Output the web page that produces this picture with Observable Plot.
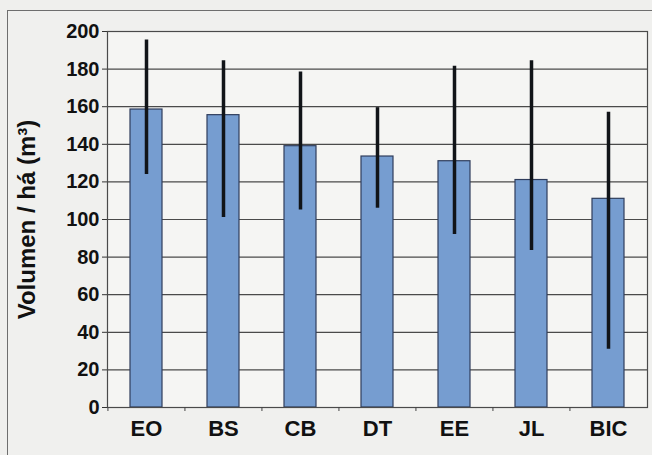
<!DOCTYPE html>
<html>
<head>
<meta charset="utf-8">
<script src="https://cdn.jsdelivr.net/npm/d3@7"></script>
<script src="https://cdn.jsdelivr.net/npm/@observablehq/plot@0.6"></script>
<style>
  html, body { margin: 0; padding: 0; background: #ededeb; overflow: hidden; }
  #wrap { position: relative; width: 652px; height: 455px; overflow: hidden; background: #efefed; }
  #panel { position: absolute; left: 7px; top: 10px; width: 700px; height: 500px;
           border: 1.5px solid #6e6e6e; background: #f0f0ee; box-sizing: border-box; }
  #chart { position: absolute; left: 0; top: 0; }
</style>
</head>
<body>
<div id="wrap">
  <div id="panel"></div>
  <div id="chart"></div>
</div>
<script>
// Mean timber volume per hectare by site, with min–max range
const sites   = ["EO", "BS", "CB", "DT", "EE", "JL", "BIC"];
const volumes = [158.5, 155.5, 139, 133.5, 131, 121, 111];
const lows    = [124, 101, 105, 106, 92, 83.5, 31];
const highs   = [195.5, 184.5, 178.5, 159.5, 181.5, 184.5, 157];
const yTicks  = [0, 20, 40, 60, 80, 100, 120, 140, 160, 180, 200];

const rows = sites.map((site, i) => ({site, volume: volumes[i], low: lows[i], high: highs[i]}));

const width = 652, height = 455;
const marginLeft = 107, marginRight = 5;
const step = (width - marginLeft - marginRight) / sites.length;

const chart = Plot.plot({
  width, height,
  marginLeft, marginRight,
  marginTop: 31, marginBottom: 48,
  style: {background: "transparent", fontFamily: "'Liberation Sans', Arial, sans-serif", fontWeight: "bold", color: "#111"},
  x: {domain: sites, paddingInner: 0.58, paddingOuter: 0.29},
  y: {domain: [0, 200]},
  marks: [
    Plot.frame({fill: "#f5f5f3", stroke: "none"}),
    Plot.gridY(yTicks, {stroke: "#4a4a4a", strokeOpacity: 1, strokeWidth: 1.2}),
    Plot.barY(rows, {x: "site", y: "volume", fill: "#769dd0", stroke: "#2f3d5c", strokeWidth: 1.2}),
    Plot.ruleX(rows, {x: "site", y1: "low", y2: "high", stroke: "#111418", strokeWidth: 3.5}),
    Plot.frame({stroke: "#4a4a4a", strokeWidth: 1.2}),
    Plot.axisY(yTicks, {
      tickSize: 5, tickPadding: 3, fontSize: 20, fontWeight: "bold", stroke: "#333",
      label: "Volumen / há (m³)", labelAnchor: "center", labelArrow: "none", labelOffset: 90
    }),
    Plot.axisX({tickSize: 0, tickPadding: 13, fontSize: 22, fontWeight: "bold", label: null}),
    Plot.axisX({tickSize: 4, text: null, dx: -step / 2, stroke: "#444", label: null})
  ]
});

// Enlarge the rotated y-axis title
chart.querySelectorAll("text").forEach(t => {
  if (t.textContent.startsWith("Volumen")) {
    t.setAttribute("font-size", 24);
    t.style.fontSize = "24px";
  }
});

document.getElementById("chart").appendChild(chart);
</script>
</body>
</html>
